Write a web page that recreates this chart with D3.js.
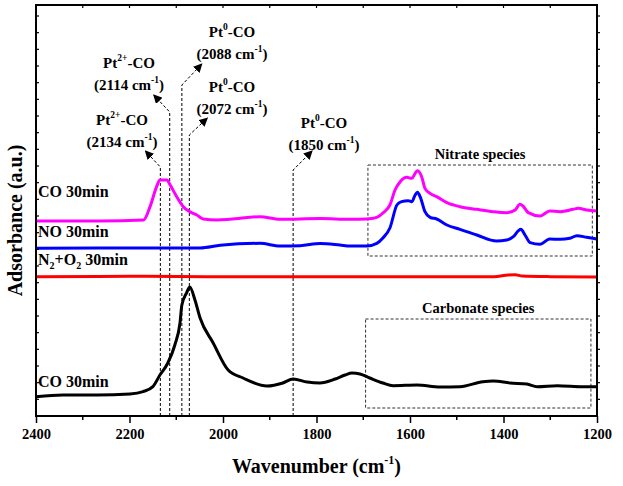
<!DOCTYPE html>
<html>
<head>
<meta charset="utf-8">
<script src="https://cdn.jsdelivr.net/npm/d3@7/dist/d3.min.js"></script>
<style>
  html, body { margin: 0; padding: 0; background: #fff; }
  svg text { font-family: "Liberation Serif", "Times New Roman", serif; font-weight: bold; fill: #000; }
</style>
</head>
<body>
<svg id="chart" width="623" height="486"></svg>
<script>
// Infrared spectra: [wavenumber (cm-1), absorbance (a.u., offset)]
const coTopSpectrum = [
  [2400,1.170],[2263,1.170],[2170,1.176],[2156,1.256],[2142,1.376],[2135,1.416],[2120,1.416],
  [2113,1.386],[2099,1.316],[2085,1.256],[2071,1.226],[2056,1.206],[2042,1.182],[2013,1.176],
  [1985,1.180],[1921,1.196],[1878,1.180],[1792,1.185],[1728,1.180],[1693,1.182],[1671,1.192],
  [1657,1.220],[1643,1.266],[1632,1.356],[1621,1.406],[1607,1.432],[1596,1.426],[1589,1.456],
  [1584,1.472],[1575,1.436],[1568,1.366],[1557,1.336],[1543,1.316],[1521,1.280],[1493,1.256],
  [1457,1.240],[1422,1.226],[1393,1.220],[1375,1.236],[1365,1.270],[1359,1.262],[1347,1.220],
  [1322,1.200],[1301,1.230],[1279,1.226],[1251,1.240],[1240,1.246],[1222,1.236],[1200,1.230]
];
const noSpectrum = [
  [2400,1.006],[2263,1.008],[2171,1.008],[2049,1.008],[2006,1.024],[1921,1.036],[1878,1.020],
  [1835,1.022],[1792,1.035],[1750,1.026],[1728,1.020],[1693,1.020],[1671,1.036],[1658,1.068],
  [1643,1.128],[1628,1.266],[1618,1.286],[1604,1.292],[1596,1.286],[1589,1.326],[1584,1.342],
  [1577,1.306],[1568,1.226],[1557,1.192],[1543,1.182],[1521,1.146],[1493,1.120],[1457,1.086],
  [1415,1.050],[1393,1.056],[1379,1.076],[1368,1.112],[1363,1.120],[1354,1.086],[1343,1.040],
  [1322,1.030],[1301,1.062],[1279,1.060],[1258,1.066],[1243,1.082],[1222,1.072],[1200,1.062]
];
const n2o2Spectrum = [
  [2400,0.836],[2200,0.838],[2000,0.836],[1800,0.836],[1600,0.835],[1420,0.836],
  [1390,0.846],[1375,0.848],[1360,0.840],[1300,0.836],[1200,0.834]
];
const coBottomSpectrum = [
  [2400,0.116],[2342,0.126],[2270,0.126],[2199,0.132],[2171,0.146],[2150,0.176],[2135,0.246],
  [2118,0.318],[2103,0.426],[2092,0.558],[2088,0.666],[2078,0.738],[2071,0.774],[2060,0.696],
  [2049,0.588],[2021,0.438],[1989,0.276],[1957,0.228],[1906,0.180],[1872,0.198],[1850,0.222],
  [1820,0.204],[1793,0.198],[1760,0.222],[1739,0.246],[1724,0.258],[1707,0.252],[1686,0.228],
  [1658,0.198],[1636,0.182],[1585,0.186],[1536,0.174],[1493,0.176],[1444,0.206],[1422,0.210],
  [1386,0.198],[1350,0.192],[1328,0.176],[1285,0.182],[1230,0.176],[1200,0.176]
];

const seriesNames  = ["CO 30min", "NO 30min", "N2+O2 30min", "CO 30min"];
const seriesColors = ["#ff00ff", "#0000ff", "#ff0000", "#000000"];
const seriesData   = [coTopSpectrum, noSpectrum, n2o2Spectrum, coBottomSpectrum];

const xTickValues = [2400, 2200, 2000, 1800, 1600, 1400, 1200];

// Band assignments marked with dashed leader lines
const bandSpecies = ["Pt2+", "Pt2+", "Pt0", "Pt0", "Pt0"];
const bandWavenumbers = [2134, 2114, 2088, 2072, 1850];

// Spectral regions outlined with dashed boxes [from, to] in cm-1
const regionNames  = ["Nitrate species", "Carbonate species"];
const regionRanges = [[1690, 1210], [1695, 1213]];

// ---------- layout ----------
const svg = d3.select("#chart");
const m = { left: 36, right: 597, top: 5, bottom: 416 };
const x = d3.scaleLinear().domain([2400, 1200]).range([m.left, m.right]);
const y = d3.scaleLinear().domain([0, 2.466]).range([m.bottom, m.top]);

// series label baselines and annotation geometry
const seriesLabelY = [197, 237, 265, 387];
const bandLayout = [
  { top: 167, tipDx: -15, tipDy: -16, labelX: 122, labelY: 125 },
  { top: 112, tipDx: -16, tipDy: -17, labelX: 129, labelY: 68 },
  { top: 85,  tipDx: 20,  tipDy: -21, labelX: 232, labelY: 37 },
  { top: 135, tipDx: 18,  tipDy: -17, labelX: 232, labelY: 92 },
  { top: 170, tipDx: 19,  tipDy: -19, labelX: 324, labelY: 128 }
];
const regionBoxY = [[165, 256], [319, 408]];

// ---------- arrow marker ----------
svg.append("defs").append("marker")
  .attr("id", "arrow").attr("viewBox", "0 0 10 10")
  .attr("refX", 9).attr("refY", 5)
  .attr("markerWidth", 9).attr("markerHeight", 9)
  .attr("markerUnits", "userSpaceOnUse")
  .attr("orient", "auto")
  .append("path").attr("d", "M0,0 L10,5 L0,10 Z").attr("fill", "#000");

// ---------- dashed region boxes ----------
regionNames.forEach((name, i) => {
  const [a, b] = regionRanges[i];
  const [y0, y1] = regionBoxY[i];
  svg.append("rect")
    .attr("x", x(a)).attr("y", y0)
    .attr("width", x(b) - x(a)).attr("height", y1 - y0)
    .attr("fill", "none").attr("stroke", "#333").attr("stroke-width", 1)
    .attr("stroke-dasharray", "3,2");
  svg.append("text")
    .attr("x", (x(a) + x(b)) / 2).attr("y", y0 - 6)
    .attr("text-anchor", "middle").attr("font-size", 14.5)
    .text(name);
});

// ---------- band leader lines & labels ----------
bandWavenumbers.forEach((wn, i) => {
  const L = bandLayout[i];
  const bx = x(wn);
  svg.append("path")
    .attr("d", `M${bx},${m.bottom} L${bx},${L.top} L${bx + L.tipDx},${L.top + L.tipDy}`)
    .attr("fill", "none").attr("stroke", "#000").attr("stroke-width", 1)
    .attr("stroke-dasharray", "3,2")
    .attr("marker-end", "url(#arrow)");

  const t1 = svg.append("text")
    .attr("x", L.labelX).attr("y", L.labelY)
    .attr("text-anchor", "middle").attr("font-size", 15);
  const sp = bandSpecies[i];
  t1.append("tspan").text("Pt");
  t1.append("tspan").attr("dy", -7).attr("font-size", 9.5).text(sp.slice(2));
  t1.append("tspan").attr("dy", 7).text("-CO");

  const t2 = svg.append("text")
    .attr("x", L.labelX).attr("y", L.labelY + 22)
    .attr("text-anchor", "middle").attr("font-size", 15);
  t2.append("tspan").text(`(${wn} cm`);
  t2.append("tspan").attr("dy", -7).attr("font-size", 9.5).text("-1");
  t2.append("tspan").attr("dy", 7).text(")");
});

// ---------- spectra ----------
const line = d3.line()
  .x(d => x(d[0])).y(d => y(d[1]))
  .curve(d3.curveMonotoneX);

seriesData.forEach((data, i) => {
  svg.append("path")
    .datum(data)
    .attr("d", line)
    .attr("fill", "none")
    .attr("stroke", seriesColors[i])
    .attr("stroke-width", 3)
    .attr("stroke-linejoin", "round");
});

// ---------- series labels ----------
seriesNames.forEach((name, i) => {
  const t = svg.append("text")
    .attr("x", 38).attr("y", seriesLabelY[i]).attr("font-size", 16);
  if (name.startsWith("N2+O2")) {
    t.append("tspan").text("N");
    t.append("tspan").attr("dy", 4).attr("font-size", 10).text("2");
    t.append("tspan").attr("dy", -4).text("+O");
    t.append("tspan").attr("dy", 4).attr("font-size", 10).text("2");
    t.append("tspan").attr("dy", -4).text(" 30min");
  } else {
    t.text(name);
  }
});

// ---------- axes ----------
const xAxis = d3.axisBottom(x)
  .tickValues(xTickValues).tickSize(7).tickPadding(6)
  .tickFormat(d3.format("d"));
const gx = svg.append("g").attr("transform", `translate(0,${m.bottom})`).call(xAxis);
gx.select(".domain").remove();
gx.selectAll("line").attr("stroke-width", 1.5);
gx.selectAll("text")
  .attr("font-size", 14.5)
  .style("font-family", '"Liberation Serif", "Times New Roman", serif')
  .style("font-weight", "bold");

// minor bottom ticks
const minorX = d3.range(2300, 1200, -200);
svg.append("g").selectAll("line").data(minorX).join("line")
  .attr("x1", d => x(d)).attr("x2", d => x(d))
  .attr("y1", m.bottom).attr("y2", m.bottom + 4)
  .attr("stroke", "#000").attr("stroke-width", 1.5);

// top ticks (mirrored, inward)
svg.append("g").selectAll("line").data(d3.range(2300, 1200, -100)).join("line")
  .attr("x1", d => x(d)).attr("x2", d => x(d))
  .attr("y1", m.top).attr("y2", m.top + 3)
  .attr("stroke", "#000").attr("stroke-width", 1.2);

// left/right ticks every 0.1 a.u.
const yTicks = d3.range(0.1, 2.45, 0.1);
svg.append("g").selectAll("line").data(yTicks).join("line")
  .attr("x1", m.left).attr("x2", m.left + 3)
  .attr("y1", d => y(d)).attr("y2", d => y(d))
  .attr("stroke", "#000").attr("stroke-width", 1.2);
svg.append("g").selectAll("line").data(yTicks).join("line")
  .attr("x1", m.right).attr("x2", m.right + 3)
  .attr("y1", d => y(d)).attr("y2", d => y(d))
  .attr("stroke", "#000").attr("stroke-width", 1.2);

// frame
svg.append("rect")
  .attr("x", m.left).attr("y", m.top)
  .attr("width", m.right - m.left).attr("height", m.bottom - m.top)
  .attr("fill", "none").attr("stroke", "#000").attr("stroke-width", 2);

// axis titles
const xt = svg.append("text")
  .attr("x", (m.left + m.right) / 2).attr("y", 473)
  .attr("text-anchor", "middle").attr("font-size", 20);
xt.append("tspan").text("Wavenumber (cm");
xt.append("tspan").attr("dy", -9).attr("font-size", 12).text("-1");
xt.append("tspan").attr("dy", 9).text(")");

svg.append("text")
  .attr("transform", `translate(22,${(m.top + m.bottom) / 2 + 10}) rotate(-90)`)
  .attr("text-anchor", "middle").attr("font-size", 20)
  .text("Adsorbance (a.u.)");
</script>
</body>
</html>
